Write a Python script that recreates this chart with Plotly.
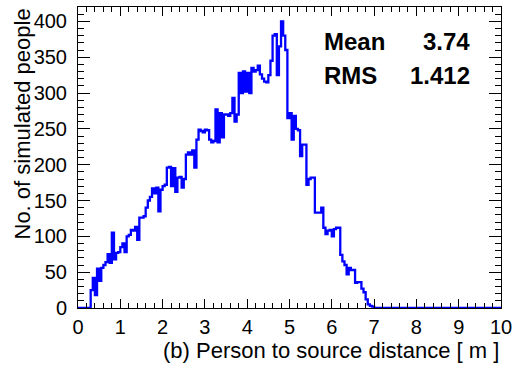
import plotly.graph_objects as go

# Histogram: person-to-source distance, bins of 0.05 m from 0 to 10 m
x_min, x_max, bin_width = 0.0, 10.0, 0.05
counts_start = 0.30  # first non-empty bin (left edge)
counts = [
    25, 42, 18, 55, 38, 56, 60, 64, 75, 63,          # 0.30 - 0.75
    105, 68, 77, 78, 85, 90, 78, 100, 102, 109,      # 0.80 - 1.25
    108, 113, 95, 126, 126, 128, 140, 150, 155, 167, # 1.30 - 1.75
    160, 168, 135, 165, 170, 172, 196, 197, 170, 195,# 1.80 - 2.25
    162, 182, 183, 168, 180, 214, 217, 214, 220, 196,# 2.30 - 2.75
    235, 249, 247, 245, 249, 248, 235, 231, 233, 277,# 2.80 - 3.25
    231, 272, 238, 270, 270, 268, 272, 293, 260, 270,# 3.30 - 3.75
    328, 300, 330, 302, 328, 300, 335, 330, 332, 338,# 3.80 - 4.25
    326, 320, 316, 315, 325, 345, 380, 382, 325, 365,# 4.30 - 4.75
    400, 380, 360, 265, 272, 235, 268, 250, 248, 212,# 4.80 - 5.25
    228, 228, 172, 180, 182, 182, 133, 133, 133, 140,# 5.30 - 5.75
    112, 103, 108, 109, 100, 110, 112, 112, 74, 65,  # 5.80 - 6.25
    60, 47, 56, 53, 53, 35, 36, 36, 27, 22,          # 6.30 - 6.75
    12, 5, 3, 2,                                     # 6.80 - 6.95
]
stat_names = ["Mean", "RMS"]
stat_values = ["3.74", "1.412"]
x_title = "(b) Person to source distance [ m ]"
y_title = "No. of simulated people"
x_major, x_minor = 1, 0.2
y_major, y_minor = 50, 10
y_max = 420

n_bins = int(round((x_max - x_min) / bin_width))
lead = int(round((counts_start - x_min) / bin_width))
full = [0] * lead + counts + [0] * (n_bins - lead - len(counts))
edges = [x_min + i * bin_width for i in range(n_bins + 1)]
xs = edges
ys = full + [full[-1]]

FONT = "Liberation Sans, Arial, Helvetica, sans-serif"

fig = go.Figure()
fig.add_trace(go.Scatter(
    x=xs, y=ys, mode="lines", line=dict(color="#0000ff", width=2.3, shape="hv"),
    showlegend=False, hoverinfo="skip",
))

axis_common = dict(
    showline=True, linecolor="black", linewidth=1, mirror="allticks",
    ticks="inside", tickcolor="black", tickwidth=1,
    showgrid=False, zeroline=False, tickmode="linear", tick0=0,
    tickfont=dict(family=FONT, size=20, color="black"),
)
fig.update_xaxes(
    range=[x_min, x_max], dtick=x_major, ticklen=9,
    minor=dict(dtick=x_minor, tick0=0, ticks="inside", ticklen=5,
               tickcolor="black", tickwidth=1, showgrid=False),
    ticklabelstandoff=1,
    **axis_common,
)
fig.update_yaxes(
    range=[0, y_max], dtick=y_major, ticklen=12,
    minor=dict(dtick=y_minor, tick0=0, ticks="inside", ticklen=6,
               tickcolor="black", tickwidth=1, showgrid=False),
    ticklabelstandoff=6,
    **axis_common,
)

L, R, T, B = 78, 20, 7, 57
W, H = 521, 365
pw, ph = W - L - R, H - T - B

def px_to_paper_x(px):
    return (px - L) / pw

def py_to_paper_y(py):
    return (H - B - py) / ph

annotations = []
for name, val, cy in zip(stat_names, stat_values, [42, 75]):
    annotations.append(dict(
        text=f"<b>{name}</b>", x=px_to_paper_x(322), y=py_to_paper_y(cy),
        xref="paper", yref="paper", xanchor="left", yanchor="middle",
        showarrow=False, font=dict(family=FONT, size=24, color="black"),
    ))
    annotations.append(dict(
        text=f"<b>{val}</b>", x=px_to_paper_x(472), y=py_to_paper_y(cy),
        xref="paper", yref="paper", xanchor="right", yanchor="middle",
        showarrow=False, font=dict(family=FONT, size=24, color="black"),
    ))
annotations.append(dict(
    text=x_title, x=1.0, y=py_to_paper_y(350), xref="paper", yref="paper",
    xanchor="right", yanchor="middle", showarrow=False,
    font=dict(family=FONT, size=22, color="black"),
))
annotations.append(dict(
    text=y_title, x=px_to_paper_x(22), y=1.0, xref="paper", yref="paper",
    xanchor="center", yanchor="top", textangle=-90, showarrow=False,
    font=dict(family=FONT, size=22, color="black"),
))

fig.update_layout(
    width=W, height=H,
    margin=dict(l=L, r=R, t=T, b=B, pad=0),
    paper_bgcolor="white", plot_bgcolor="white",
    annotations=annotations,
)

fig.write_html("out.html")
